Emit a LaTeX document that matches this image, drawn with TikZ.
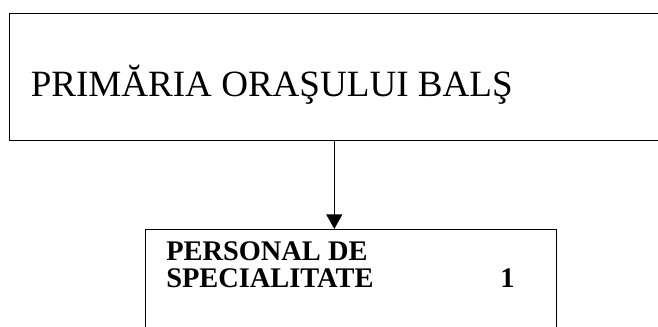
\documentclass[tikz,border=0pt]{standalone}
\usepackage{fontspec}
\setmainfont{Liberation Serif}
\usetikzlibrary{arrows.meta}

\tikzset{
    box/.style={draw, line width=1pt, inner sep=0pt},
    label/.style={anchor=base west, inner sep=0pt},
    bold/.style={label, font=\bfseries\fontsize{21.3pt}{20pt}\selectfont},
    arrow/.style={line width=1pt, -{Triangle[width=12pt,length=11pt]}}
}

\begin{document}
\begin{tikzpicture}[x=0.75pt,y=-0.75pt]
    % Page frame
    \clip (0,0) rectangle (658,326);
    % Boxes
    \node[box, anchor=north west, minimum width=498pt, minimum height=95.5pt] (primaria) at (8.5,12.7) {};
    \node[box, anchor=north west, minimum width=308.25pt, minimum height=90pt] (personal) at (145,229) {};
    % Texts
    \node[label, font=\fontsize{27.8pt}{32pt}\selectfont] (titlu) at (30.5,96) {PRIMĂRIA ORAŞULUI BALŞ};
    \node[bold, align=left] (rand) at (166,287) {PERSONAL DE\\SPECIALITATE};
    \node[bold] (numar) at (500,287) {1};
    % Connector
    \coordinate (axa) at (334.3,0);
    \draw[arrow] (primaria.south -| axa) -- (personal.north -| axa);
\end{tikzpicture}
\end{document}
